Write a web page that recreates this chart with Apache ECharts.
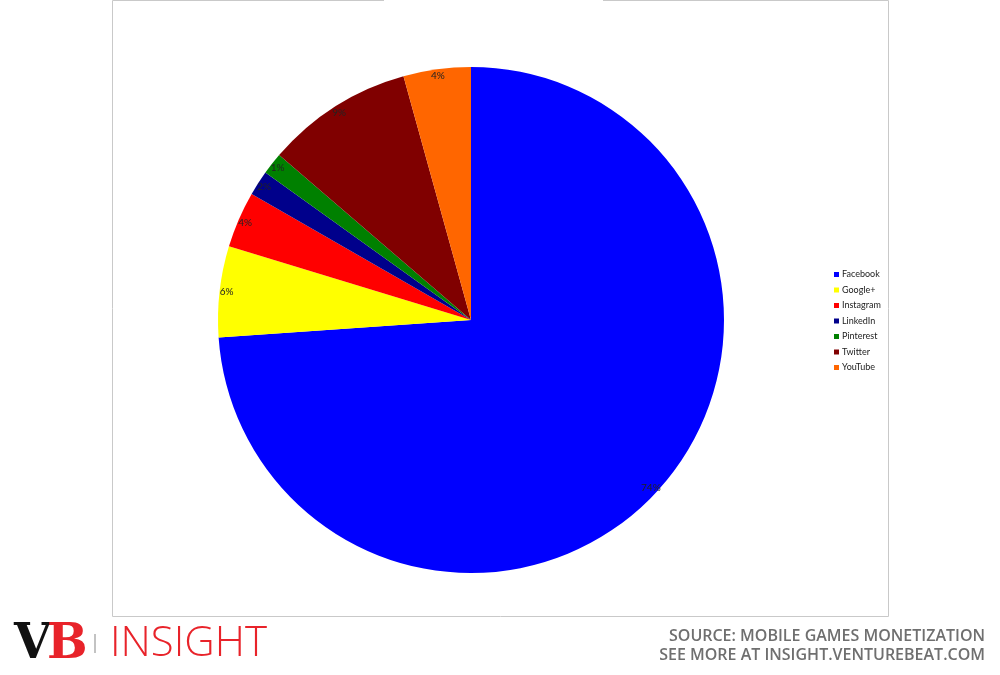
<!DOCTYPE html>
<html><head><meta charset="utf-8">
<script src="https://cdn.jsdelivr.net/npm/echarts@6/dist/echarts.min.js"></script>
<style>html,body{margin:0;padding:0;background:#fff}#c{width:1000px;height:675px}</style>
</head><body><div id="c"></div>
<script>
const categories = ['Facebook','Google+','Instagram','LinkedIn','Pinterest','Twitter','YouTube'];
const shares = [73.9, 5.8, 3.6, 1.6, 1.4, 9.4, 4.3];
const labels = ['74%','6%','4%','2%','1%','9%','4%'];
const colors = ['#0000ff','#ffff00','#ff0000','#00008b','#008000','#800000','#ff6600'];

const chart = echarts.init(document.getElementById('c'));
const data = categories.map((n,i)=>({name:n, value:shares[i], itemStyle:{color:colors[i]}}));
const labelData = categories.map((n,i)=>({name:n, value:shares[i], label:{formatter:labels[i]}}));
const border = '#c9c9c9';
chart.setOption({
  animation:false,
  legend:{orient:'vertical', left:829, top:265, itemWidth:5, itemHeight:5, itemGap:6.5,
    icon:'rect', data:categories, selectedMode:false,
    textStyle:{fontFamily:'Lato', fontSize:9, color:'#222', padding:[0,0,0,-2]}},
  series:[
    {type:'pie', center:[471,320], radius:[0,253], startAngle:90, clockwise:true,
     data:data, label:{show:false}, labelLine:{show:false}, silent:true,
     itemStyle:{borderWidth:0}},
    {type:'pie', center:[471,320], radius:[233,253], startAngle:90, clockwise:true,
     data:labelData, silent:true, legendHoverLink:false,
     itemStyle:{color:'rgba(0,0,0,0)', borderWidth:0},
     label:{show:true, position:'inside', fontFamily:'Lato', fontSize:10, color:'#222'},
     labelLine:{show:false}}
  ],
  graphic:[
    {type:'polyline', shape:{points:[[384,0.5],[112.5,0.5],[112.5,616.5],[888.5,616.5],[888.5,0.5],[603,0.5]]},
     style:{stroke:border, lineWidth:1, fill:null}},
    {type:'text', left:14, top:622, style:{text:'V', font:'900 48px "DejaVu Serif"', fill:'#111'}},
    {type:'text', left:47, top:622, style:{text:'B', font:'900 48px "DejaVu Serif"', fill:'#e8232a'}},
    {type:'rect', shape:{x:94.5, y:634, width:1, height:19}, style:{fill:'#888'}},
    {type:'text', left:110, top:623, style:{text:'INSIGHT', font:'300 42px "Open Sans"', fill:'#e8232a'}},
    {type:'text', right:15, top:628, style:{text:'SOURCE: MOBILE GAMES MONETIZATION', font:'600 16px "Open Sans"', fill:'#6f6f6f', align:'right'}},
    {type:'text', right:15, top:647, style:{text:'SEE MORE AT INSIGHT.VENTUREBEAT.COM', font:'600 16px "Open Sans"', fill:'#6f6f6f', align:'right'}}
  ]
});
</script></body></html>
